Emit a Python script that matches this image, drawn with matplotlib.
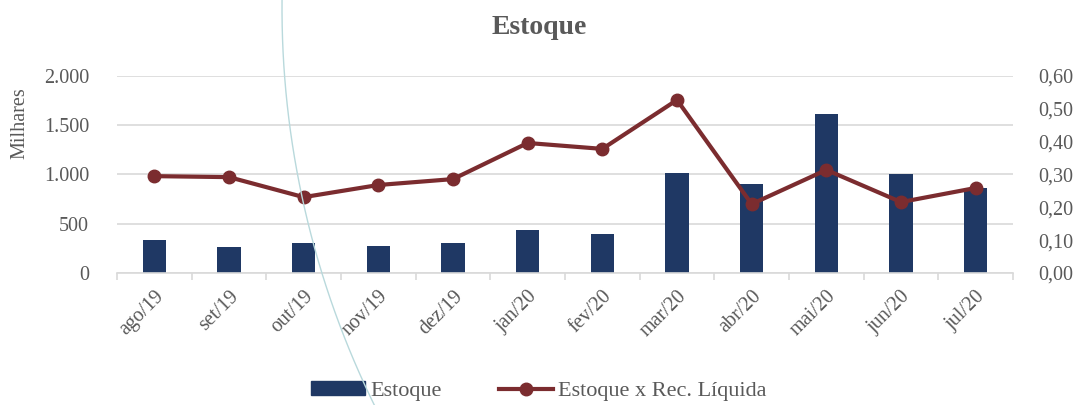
import numpy as np
import matplotlib
matplotlib.use("Agg")
import matplotlib.pyplot as plt
from matplotlib.lines import Line2D
from matplotlib.ticker import FuncFormatter, MultipleLocator

meses = ["ago/19", "set/19", "out/19", "nov/19", "dez/19", "jan/20",
         "fev/20", "mar/20", "abr/20", "mai/20", "jun/20", "jul/20"]
estoque = [335, 264, 300, 274, 300, 432, 398, 1018, 900, 1612, 1002, 862]
estoque_rec = [0.295, 0.292, 0.231, 0.268, 0.286, 0.396,
               0.378, 0.527, 0.210, 0.314, 0.216, 0.259]

NAVY = "#1f3864"
WINE = "#7b2c2f"
GREY = "#595959"
GRID = "#d9d9d9"

plt.rcParams['font.family'] = ['Liberation Serif', 'DejaVu Serif']

fig = plt.figure(figsize=(10.78, 4.05), dpi=100)
ax = fig.add_axes([117 / 1078, 1 - 273 / 405, (1013 - 117) / 1078, (273 - 76) / 405])
ax2 = ax.twinx()

x = np.arange(len(meses))
ax.bar(x, estoque, width=0.31, color=NAVY, zorder=2)
ax.set_ylim(0, 2000)
ax.yaxis.set_major_locator(MultipleLocator(500))
ax.yaxis.set_major_formatter(FuncFormatter(lambda v, p: f"{v:,.0f}".replace(",", ".")))
ax.grid(axis="y", color=GRID, linewidth=1.2, zorder=0)
ax.set_axisbelow(True)
ax.set_xlim(-0.5, len(meses) - 0.5)

ax2.plot(x, estoque_rec, color=WINE, linewidth=3, marker="o", markersize=9, zorder=3)
ax2.set_ylim(0, 0.6)
ax2.yaxis.set_major_locator(MultipleLocator(0.1))
ax2.yaxis.set_major_formatter(FuncFormatter(lambda v, p: f"{v:.2f}".replace(".", ",")))

for a in (ax, ax2):
    for s in ("top", "left", "right"):
        a.spines[s].set_visible(False)
ax.tick_params(axis="y", length=0, labelsize=14.5, labelcolor=GREY, pad=20)
ax2.tick_params(axis="y", length=0, labelsize=14.5, labelcolor=GREY, pad=18)
ax2.spines["bottom"].set_visible(False)
ax.spines["bottom"].set_color(GRID)
ax.spines["bottom"].set_linewidth(1.2)

# category boundary ticks
ax.set_xticks(np.arange(len(meses) + 1) - 0.5, minor=True)
ax.tick_params(axis="x", which="minor", length=5, color=GRID, width=1.2)
ax.set_xticks(x)
ax.set_xticklabels(meses, rotation=45, ha="right", rotation_mode="anchor")
ax.tick_params(axis="x", which="major", length=0, labelsize=14.5, labelcolor=GREY, pad=10)

ax.set_ylabel("Milhares", fontsize=14.5, color=GREY)
ax.yaxis.set_label_coords(-0.098, 0.76)

fig.text(0.5, 1 - 27 / 405, "Estoque", ha="center", va="center",
         fontsize=20, fontweight="bold", color=GREY)

handles = [plt.Rectangle((0, 0), 1, 1, color=NAVY),
           Line2D([], [], color=WINE, linewidth=3, marker="o", markersize=9)]
fig.legend(handles, ["Estoque", "Estoque x Rec. Líquida"], loc="center",
           bbox_to_anchor=(0.5, 1 - 391 / 405), ncol=2, frameon=False,
           fontsize=16, labelcolor=GREY, handlelength=2.4, handletextpad=0.25,
           columnspacing=2.6, handleheight=0.6)

# faint decorative arc crossing the chart
t = np.linspace(np.pi - 0.02, np.pi + 0.47, 200)
cx, cy, r = 1182, 397, 900
arc_x = (cx + r * np.cos(t)) / 1078
arc_y = (cy + r * np.sin(t)) / 405
fig.add_artist(Line2D(arc_x, arc_y, transform=fig.transFigure,
                      color="#b9d9dc", linewidth=1.0, zorder=10))

fig.savefig("out.png", dpi=100)
